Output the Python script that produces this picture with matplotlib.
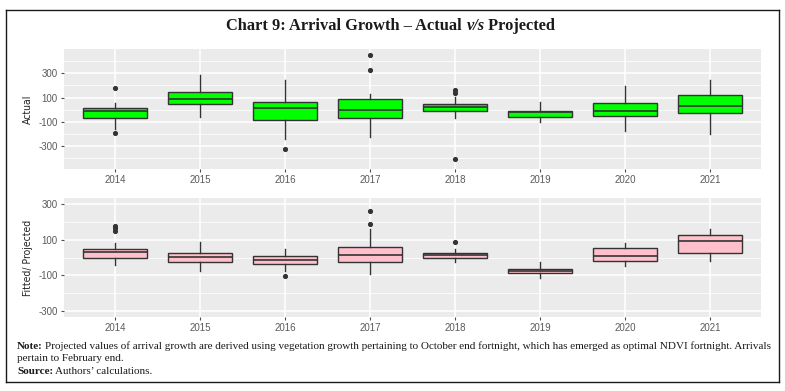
import matplotlib
matplotlib.use("Agg")
import matplotlib.pyplot as plt
from matplotlib.lines import Line2D
from matplotlib.ticker import FixedLocator

years = ['2014', '2015', '2016', '2017', '2018', '2019', '2020', '2021']

act_lo = [-158, -56, -240, -226, -70, -97, -171, -201]
act_q1 = [-67, 45, -86, -70, -10, -56, -53, -29]
act_med = [-7, 92, 12, -4, 20, -15, -10, 34]
act_q3 = [12, 144, 62, 86, 45, -7, 53, 119]
act_hi = [56, 286, 242, 127, 108, 67, 199, 242]
act_fliers = [[177, -193], [], [-325], [448, 325], [163, 136, -407], [], [], []]

fit_lo = [-41, -73, -73, -93, -25, -115, -50, -21]
fit_q1 = [-4, -23, -34, -23, -1, -89, -17, 27]
fit_med = [29, 3, -12, 12, 12, -75, 8, 93]
fit_q3 = [45, 27, 7, 58, 23, -62, 51, 123]
fit_hi = [80, 84, 47, 158, 45, -27, 80, 158]
fit_fliers = [[177, 162, 147], [], [-102], [261, 189], [86], [], [], []]

major_ticks = [-300, -100, 100, 300]
major_labels = ['-300', '-100', '100', '300']

W, H = 785, 391
fig = plt.figure(figsize=(W / 100, H / 100), dpi=100)
fig.patch.set_facecolor('white')


def fx(px):
    return px / W


def fy(py):
    return 1 - py / H


def panel(rect, lo, q1, med, q3, hi, fliers, fill, ylim, minors, ylabel):
    ax = fig.add_axes(rect)
    ax.set_facecolor('#EBEBEB')
    for s in ax.spines.values():
        s.set_visible(False)
    stats = []
    for i in range(len(years)):
        stats.append(dict(whislo=lo[i], q1=q1[i], med=med[i], q3=q3[i],
                          whishi=hi[i], fliers=fliers[i]))
    pos = list(range(1, len(years) + 1))
    ax.bxp(stats, positions=pos, widths=0.75, patch_artist=True,
           showcaps=False,
           boxprops=dict(facecolor=fill, edgecolor='#333333', linewidth=1.0),
           medianprops=dict(color='#333333', linewidth=1.2),
           whiskerprops=dict(color='#333333', linewidth=1.0),
           flierprops=dict(marker='o', markersize=2.7, markerfacecolor='#333333',
                           markeredgecolor='#333333'), zorder=3)
    ax.set_xlim(0.4, len(years) + 0.6)
    ax.set_ylim(*ylim)
    ax.yaxis.set_major_locator(FixedLocator(major_ticks))
    ax.set_yticklabels(major_labels)
    ax.yaxis.set_minor_locator(FixedLocator(minors))
    ax.set_xticks(pos)
    ax.set_xticklabels(years)
    ax.set_axisbelow(True)
    ax.grid(which='major', color='white', linewidth=1.1)
    ax.grid(which='minor', axis='y', color='white', linewidth=0.55)
    ax.tick_params(which='major', length=2.5, width=0.8, color='#4D4D4D',
                   labelsize=7, labelcolor='#5A5A5A', pad=2)
    ax.tick_params(which='minor', length=0)
    for t in ax.get_xticklabels() + ax.get_yticklabels():
        t.set_family('Liberation Sans')
    ax.set_ylabel(ylabel, fontsize=7.5, family='DejaVu Sans', fontstretch='condensed',
                  color='#222222', labelpad=3)
    return ax


ax1 = panel([fx(64), fy(169), fx(761) - fx(64), fy(49) - fy(169)],
            act_lo, act_q1, act_med, act_q3, act_hi, act_fliers,
            '#00FF00', (-487, 500), [-400, -200, 0, 200, 400], 'Actual')
ax2 = panel([fx(64), fy(317), fx(761) - fx(64), fy(198) - fy(317)],
            fit_lo, fit_q1, fit_med, fit_q3, fit_hi, fit_fliers,
            '#FFC0CB', (-331, 331), [-200, 0, 200], 'Fitted/ Projected')
ax1.yaxis.set_label_coords(-0.045, 0.5)
ax2.yaxis.set_label_coords(-0.045, 0.5)

# border
bx0, bx1, by0, by1 = fx(6), fx(779), fy(382), fy(10)
for xs, ys in [([bx0, bx1], [by1, by1]), ([bx0, bx1], [by0, by0]),
               ([bx0, bx0], [by0, by1]), ([bx1, bx1], [by0, by1])]:
    fig.add_artist(Line2D(xs, ys, transform=fig.transFigure, color='#1a1a1a', linewidth=1.0))

# title in pieces
renderer = fig.canvas.get_renderer()
parts = [("Chart 9: Arrival Growth \u2013 Actual ", 'normal'),
         ("v/s", 'italic'),
         (" Projected", 'normal')]
texts = []
for s, st in parts:
    t = fig.text(0, fy(30), s, fontsize=11.8, family='Liberation Serif', weight='bold',
                 style=st, color='#1a1a1a', va='baseline', ha='left')
    texts.append(t)
widths = [t.get_window_extent(renderer).width for t in texts]
total = sum(widths)
x = 391 - total / 2
for t, w in zip(texts, widths):
    t.set_x(x / W)
    x += w

note_fs = 8.0
t = fig.text(fx(17), fy(349), "Note:", fontsize=note_fs, family='Liberation Serif',
             weight='bold', color='#1a1a1a', va='baseline')
w = t.get_window_extent(renderer).width
fig.text(fx(17) + (w + 2) / W, fy(349),
         "Projected values of arrival growth are derived using vegetation growth pertaining to "
         "October end fortnight, which has emerged as optimal NDVI fortnight. Arrivals",
         fontsize=note_fs, family='Liberation Serif', color='#1a1a1a', va='baseline')
fig.text(fx(17), fy(361), "pertain to February end.", fontsize=note_fs,
         family='Liberation Serif', color='#1a1a1a', va='baseline')
t = fig.text(fx(17), fy(374), "Source:", fontsize=note_fs, family='Liberation Serif',
             weight='bold', color='#1a1a1a', va='baseline')
w = t.get_window_extent(renderer).width
fig.text(fx(17) + (w + 2) / W, fy(374), "Authors\u2019 calculations.", fontsize=note_fs,
         family='Liberation Serif', color='#1a1a1a', va='baseline')

fig.savefig('out.png', dpi=100)
